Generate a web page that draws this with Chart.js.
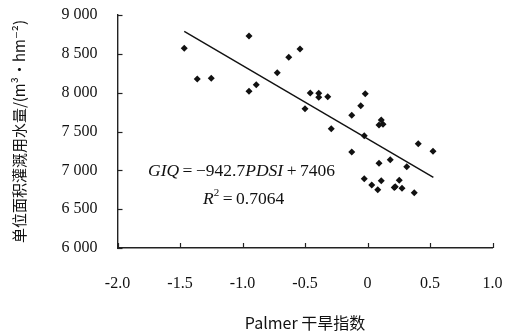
<!DOCTYPE html>
<html>
<head>
<meta charset="utf-8">
<script src="https://cdn.jsdelivr.net/npm/chart.js@4.4.0/dist/chart.umd.min.js"></script>
<style>
  body { margin: 0; background: #fff; }
  #wrap { width: 507px; height: 334px; }
</style>
</head>
<body>
<div id="wrap"><canvas id="myChart" width="507" height="334"></canvas></div>
<script>
// Palmer drought index vs irrigation water use per unit area
const pdsi = [
  -1.466, -1.362, -1.25, -0.948, -0.948, -0.89, -0.722, -0.63, -0.54,
  -0.50, -0.458, -0.39, -0.39, -0.318, -0.29,
  -0.126, -0.054, -0.018, -0.126, -0.026, -0.026, 0.034, 0.082, 0.092,
  0.11, 0.092, 0.124, 0.11, 0.182, 0.214, 0.222, 0.254, 0.276, 0.314,
  0.374, 0.406, 0.524
];
const waterUse = [
  8571, 8176, 8185, 8730, 8017, 8103, 8257, 8455, 8562,
  7794, 7996, 7992, 7940, 7948, 7536,
  7708, 7832, 7987, 7236, 7446, 6892, 6811, 6751, 7090,
  6867, 7584, 7593, 7648, 7137, 6780, 6790, 6871, 6770, 7047,
  6712, 7343, 7245
];
// fitted line end points as drawn
const fitX = [-1.466, 0.527];
const fitY = [8788, 6909];

const xTicks = [-2.0, -1.5, -1.0, -0.5, 0, 0.5, 1.0];
const yTicks = [6000, 6500, 7000, 7500, 8000, 8500, 9000];

const points = pdsi.map((v, i) => ({ x: v, y: waterUse[i] }));
const fitLine = fitX.map((v, i) => ({ x: v, y: fitY[i] }));

const serif = '"Liberation Serif", "DejaVu Serif", serif';

// inward tick marks + equation text
const extras = {
  id: 'extras',
  afterDraw(chart) {
    const c = chart.ctx;
    const xs = chart.scales.x, ys = chart.scales.y;
    const area = chart.chartArea;
    c.save();
    c.strokeStyle = '#222';
    c.lineWidth = 1.2;
    xTicks.forEach(t => {
      const px = Math.round(xs.getPixelForValue(t)) + 0.5;
      c.beginPath();
      c.moveTo(px, area.bottom);
      c.lineTo(px, area.bottom - 5);
      c.stroke();
    });
    yTicks.forEach(t => {
      const py = Math.round(ys.getPixelForValue(t)) + 0.5;
      c.beginPath();
      c.moveTo(area.left, py);
      c.lineTo(area.left + 5, py);
      c.stroke();
    });

    c.fillStyle = '#111';
    c.textBaseline = 'alphabetic';
    const drawRuns = (runs, x, y) => {
      runs.forEach(r => {
        c.font = (r.i ? 'italic ' : '') + (r.s || 17.5) + 'px ' + serif;
        c.fillText(r.t, x, y + (r.dy || 0));
        x += c.measureText(r.t).width;
      });
    };
    drawRuns([
      { t: 'GIQ', i: true },
      { t: '\u2009=\u2009\u2212942.7' },
      { t: 'PDSI', i: true },
      { t: '\u2009+\u20097406' }
    ], xs.getPixelForValue(-1.756), ys.getPixelForValue(6927));
    drawRuns([
      { t: 'R', i: true },
      { t: '2', s: 11, dy: -8 },
      { t: '\u2009=\u20090.7064' }
    ], xs.getPixelForValue(-1.316), ys.getPixelForValue(6563));
    c.restore();
  }
};

const ctx = document.getElementById('myChart');

const myChart = new Chart(ctx, {
  type: 'scatter',
  data: {
    datasets: [
      {
        data: points,
        pointStyle: 'rectRot',
        pointRadius: 3.5,
        backgroundColor: '#111',
        borderColor: '#111',
        borderWidth: 0
      },
      {
        type: 'line',
        data: fitLine,
        borderColor: '#111',
        borderWidth: 1.4,
        pointRadius: 0,
        fill: false
      }
    ]
  },
  options: {
    responsive: false,
    animation: false,
    events: [],
    layout: { padding: { top: 15, right: 14.5, left: 6, bottom: 1 } },
    plugins: { legend: { display: false }, tooltip: { enabled: false } },
    scales: {
      x: {
        type: 'linear',
        min: -2, max: 1,
        afterBuildTicks: s => { s.ticks = xTicks.map(v => ({ value: v })); },
        afterFit: s => { s.height = 85; },
        // transparent tick marks only used to push labels away from the axis
        grid: { display: true, drawOnChartArea: false, drawTicks: true, tickLength: 23, tickColor: 'rgba(0,0,0,0)' },
        border: { display: true, color: '#222', width: 1.4 },
        ticks: {
          padding: 3,
          color: '#111',
          font: { family: serif, size: 16 },
          callback: v => v === 0 ? '0' : v.toFixed(1)
        },
        title: {
          display: true,
          text: 'Palmer 干旱指数',
          color: '#111',
          padding: { top: 14, bottom: 0 },
          font: { family: '"Noto Sans CJK SC", ' + serif, size: 16 }
        }
      },
      y: {
        min: 6000, max: 9000,
        afterBuildTicks: s => { s.ticks = yTicks.map(v => ({ value: v })); },
        afterFit: s => { s.width = 111.5; },
        grid: { display: true, drawOnChartArea: false, drawTicks: true, tickLength: 17, tickColor: 'rgba(0,0,0,0)' },
        border: { display: true, color: '#222', width: 1.4 },
        ticks: {
          padding: 3,
          color: '#111',
          font: { family: serif, size: 16 },
          callback: v => String(v).replace(/(\d)(\d{3})$/, '$1 $2')
        },
        title: {
          display: true,
          text: '单位面积灌溉用水量/(m³·hm⁻²)',
          color: '#111',
          padding: { bottom: 0 },
          font: { family: '"Noto Sans CJK SC", ' + serif, size: 15 }
        }
      }
    }
  },
  plugins: [extras]
});
</script>
</body>
</html>
